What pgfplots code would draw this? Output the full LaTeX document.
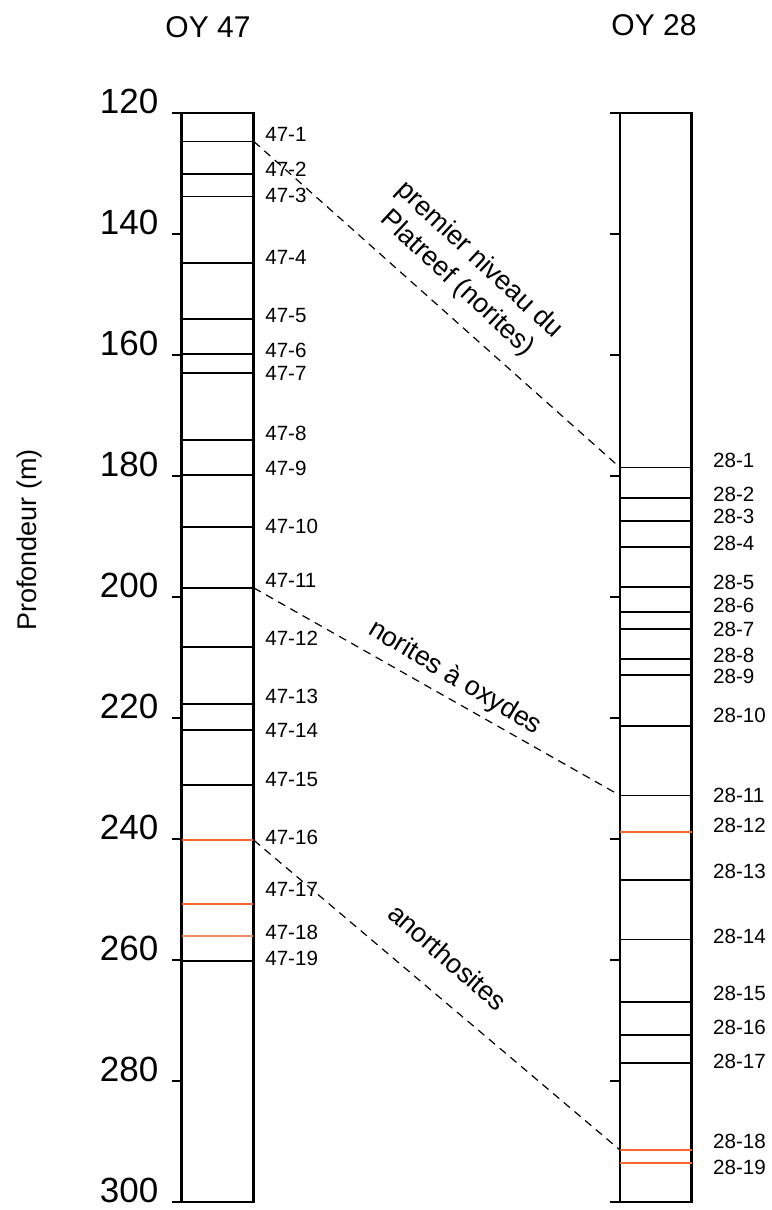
\documentclass[border=0pt]{standalone}
\usepackage{fontspec}
\setmainfont{Liberation Sans}
\usepackage{pgfplots}
\pgfplotsset{compat=1.18}
\definecolor{oran}{RGB}{250,100,45}
\definecolor{oranlt}{RGB}{245,135,105}
\newcommand\hl[2]{\addplot[#1,line width=0.95pt] coordinates {(0,#2) (1,#2)};}
\tikzset{lbl/.style={anchor=west, inner sep=0pt, font=\fontsize{10.3}{12}\selectfont}}
\begin{document}
\begin{tikzpicture}
\path[use as bounding box] (0,0) rectangle (385.5pt,-605pt);
\pgfplotsset{col/.style={
  scale only axis, width=35.8pt, height=544.5pt,
  xmin=0,xmax=1, ymin=120,ymax=300, y dir=reverse,
  xtick=\empty, ytick={120,140,...,300},
  ytick pos=left, tick align=outside,
  major tick length=5pt,
  every tick/.style={black, line width=1.1pt},
  axis line style={line width=1.3pt},
  clip=false,
  /pgf/number format/assume math mode=true,
}}
\begin{axis}[col, anchor=north west, at={(90.85pt,-56.5pt)},
  yticklabel style={font=\fontsize{17.5}{20}\selectfont, anchor=base east, inner sep=0pt, xshift=-6.5pt}]
\hl{black}{124.7}
\hl{black}{130.1}
\hl{black}{133.8}
\hl{black}{144.8}
\hl{black}{154.1}
\hl{black}{159.9}
\hl{black}{163.0}
\hl{black}{174.0}
\hl{black}{179.8}
\hl{black}{188.5}
\hl{black}{198.5}
\hl{black}{208.2}
\hl{black}{217.7}
\hl{black}{222.0}
\hl{black}{231.0}
\hl{oran}{240.2}
\hl{oran}{250.8}
\hl{oranlt}{256.1}
\hl{black}{260.2}
\begin{scope}[every node/.style={lbl, xshift=5.8pt}]
\node at (axis cs:1,123.6) {47-1};
\node at (axis cs:1,129.3) {47-2};
\node at (axis cs:1,133.7) {47-3};
\node at (axis cs:1,143.8) {47-4};
\node at (axis cs:1,153.5) {47-5};
\node at (axis cs:1,159.3) {47-6};
\node at (axis cs:1,163.0) {47-7};
\node at (axis cs:1,172.9) {47-8};
\node at (axis cs:1,178.7) {47-9};
\node at (axis cs:1,188.3) {47-10};
\node at (axis cs:1,197.2) {47-11};
\node at (axis cs:1,206.9) {47-12};
\node at (axis cs:1,216.5) {47-13};
\node at (axis cs:1,222.1) {47-14};
\node at (axis cs:1,230.2) {47-15};
\node at (axis cs:1,239.8) {47-16};
\node at (axis cs:1,248.4) {47-17};
\node at (axis cs:1,255.5) {47-18};
\node at (axis cs:1,259.8) {47-19};
\end{scope}
\end{axis}
\begin{axis}[col, anchor=north west, at={(310pt,-56.5pt)}, yticklabels={}]
\hl{black}{178.6}
\hl{black}{183.7}
\hl{black}{187.4}
\hl{black}{191.7}
\hl{black}{198.4}
\hl{black}{202.5}
\hl{black}{205.3}
\hl{black}{210.2}
\hl{black}{212.9}
\hl{black}{221.3}
\hl{black}{232.8}
\hl{oran}{238.8}
\hl{black}{246.8}
\hl{black}{256.6}
\hl{black}{266.9}
\hl{black}{272.4}
\hl{black}{277.0}
\hl{oran}{291.4}
\hl{oran}{293.5}
\addplot[black, line width=0.6pt, dash pattern=on 4pt off 3pt] coordinates {(-5.114,124.7) (0,178.6)};
\addplot[black, line width=0.6pt, dash pattern=on 4pt off 3pt] coordinates {(-5.114,198.5) (0,232.8)};
\addplot[black, line width=0.6pt, dash pattern=on 4pt off 3pt] coordinates {(-5.114,240.2) (0,291.4)};
\begin{scope}[every node/.style={lbl, xshift=10.6pt}]
\node at (axis cs:1,177.5) {28-1};
\node at (axis cs:1,183.1) {28-2};
\node at (axis cs:1,186.6) {28-3};
\node at (axis cs:1,191.1) {28-4};
\node at (axis cs:1,197.6) {28-5};
\node at (axis cs:1,201.4) {28-6};
\node at (axis cs:1,205.3) {28-7};
\node at (axis cs:1,209.7) {28-8};
\node at (axis cs:1,213.2) {28-9};
\node at (axis cs:1,219.5) {28-10};
\node at (axis cs:1,232.8) {28-11};
\node at (axis cs:1,237.8) {28-12};
\node at (axis cs:1,245.3) {28-13};
\node at (axis cs:1,256.1) {28-14};
\node at (axis cs:1,265.5) {28-15};
\node at (axis cs:1,271.1) {28-16};
\node at (axis cs:1,276.8) {28-17};
\node at (axis cs:1,289.9) {28-18};
\node at (axis cs:1,294.3) {28-19};
\end{scope}
\end{axis}
\node[font=\fontsize{15}{18}\selectfont] at (104pt,-13.5pt) {OY 47};
\node[font=\fontsize{15}{18}\selectfont] at (327pt,-12.5pt) {OY 28};
\node[rotate=90, font=\fontsize{13.5}{15}\selectfont] at (15pt,-270pt) {Profondeur (m)};
\node[rotate=-43, align=center, font=\fontsize{13.5}{16}\selectfont] at (234pt,-136pt) {premier niveau du\\Platreef (norites)};
\node[rotate=-31, font=\fontsize{13.5}{15}\selectfont] at (227.5pt,-339pt) {norites à oxydes};
\node[rotate=-41, font=\fontsize{13.5}{15}\selectfont] at (224pt,-478.5pt) {anorthosites};
\end{tikzpicture}
\end{document}
